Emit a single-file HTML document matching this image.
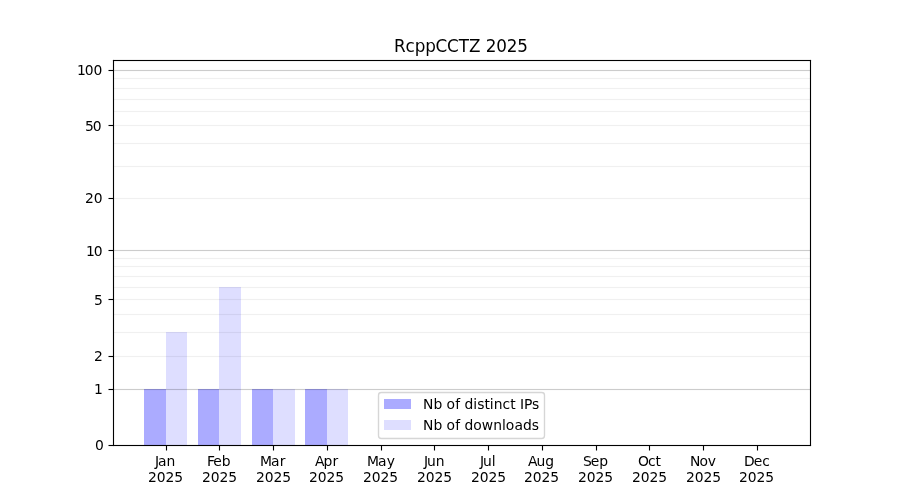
<!DOCTYPE html>
<html lang="en"><head><meta charset="utf-8"><title>RcppCCTZ 2025</title>
<style>html,body{margin:0;padding:0;background:#fff}body{width:900px;height:500px;overflow:hidden}svg{display:block}text{font-family:'DejaVu Sans','Liberation Sans',sans-serif;font-size:13.889px;fill:#000;white-space:pre}</style>
</head><body>
<svg width="900" height="500" viewBox="0 0 900 500">
<rect width="900" height="500" fill="#fff"/>
<g shape-rendering="crispEdges" fill="#00f">
<rect x="144" y="389" width="22" height="56" fill-opacity="0.33"/>
<rect x="166" y="332" width="21" height="113" fill-opacity="0.13"/>
<rect x="198" y="389" width="21" height="56" fill-opacity="0.33"/>
<rect x="219" y="287" width="22" height="158" fill-opacity="0.13"/>
<rect x="252" y="389" width="21" height="56" fill-opacity="0.33"/>
<rect x="273" y="389" width="22" height="56" fill-opacity="0.13"/>
<rect x="305" y="389" width="22" height="56" fill-opacity="0.33"/>
<rect x="327" y="389" width="21" height="56" fill-opacity="0.13"/>
</g>
<g shape-rendering="crispEdges" fill="#000">
<g fill-opacity="0.2">
<rect x="114" y="70" width="696" height="1"/>
<rect x="114" y="250" width="696" height="1"/>
<rect x="114" y="389" width="696" height="1"/>
</g>
<g fill-opacity="0.011">
<rect x="114" y="69" width="696" height="1"/><rect x="114" y="71" width="696" height="1"/>
<rect x="114" y="249" width="696" height="1"/><rect x="114" y="251" width="696" height="1"/>
<rect x="114" y="388" width="696" height="1"/><rect x="114" y="390" width="696" height="1"/>
</g>
<g fill-opacity="0.06">
<rect x="114" y="78" width="696" height="1"/>
<rect x="114" y="88" width="696" height="1"/>
<rect x="114" y="99" width="696" height="1"/>
<rect x="114" y="111" width="696" height="1"/>
<rect x="114" y="125" width="696" height="1"/>
<rect x="114" y="143" width="696" height="1"/>
<rect x="114" y="166" width="696" height="1"/>
<rect x="114" y="198" width="696" height="1"/>
<rect x="114" y="258" width="696" height="1"/>
<rect x="114" y="266" width="696" height="1"/>
<rect x="114" y="276" width="696" height="1"/>
<rect x="114" y="287" width="696" height="1"/>
<rect x="114" y="299" width="696" height="1"/>
<rect x="114" y="314" width="696" height="1"/>
<rect x="114" y="332" width="696" height="1"/>
<rect x="114" y="356" width="696" height="1"/>
</g>
<g fill-opacity="0.0039">
<rect x="114" y="77" width="696" height="1"/><rect x="114" y="79" width="696" height="1"/>
<rect x="114" y="87" width="696" height="1"/><rect x="114" y="89" width="696" height="1"/>
<rect x="114" y="98" width="696" height="1"/><rect x="114" y="100" width="696" height="1"/>
<rect x="114" y="110" width="696" height="1"/><rect x="114" y="112" width="696" height="1"/>
<rect x="114" y="124" width="696" height="1"/><rect x="114" y="126" width="696" height="1"/>
<rect x="114" y="142" width="696" height="1"/><rect x="114" y="144" width="696" height="1"/>
<rect x="114" y="165" width="696" height="1"/><rect x="114" y="167" width="696" height="1"/>
<rect x="114" y="197" width="696" height="1"/><rect x="114" y="199" width="696" height="1"/>
<rect x="114" y="257" width="696" height="1"/><rect x="114" y="259" width="696" height="1"/>
<rect x="114" y="265" width="696" height="1"/><rect x="114" y="267" width="696" height="1"/>
<rect x="114" y="275" width="696" height="1"/><rect x="114" y="277" width="696" height="1"/>
<rect x="114" y="286" width="696" height="1"/><rect x="114" y="288" width="696" height="1"/>
<rect x="114" y="298" width="696" height="1"/><rect x="114" y="300" width="696" height="1"/>
<rect x="114" y="313" width="696" height="1"/><rect x="114" y="315" width="696" height="1"/>
<rect x="114" y="331" width="696" height="1"/><rect x="114" y="333" width="696" height="1"/>
<rect x="114" y="355" width="696" height="1"/><rect x="114" y="357" width="696" height="1"/>
</g>
<rect x="113" y="60" width="698" height="1"/><rect x="113" y="445" width="698" height="1"/>
<g fill-opacity="0.055">
<rect x="114" y="59" width="696" height="1"/><rect x="114" y="61" width="696" height="1"/>
<rect x="114" y="444" width="696" height="1"/><rect x="114" y="446" width="696" height="1"/>
</g>
</g>
<g stroke="#000" stroke-width="1.111" fill="none">
<line x1="166.5" x2="166.5" y1="445.5" y2="450.5"/>
<line x1="219.5" x2="219.5" y1="445.5" y2="450.5"/>
<line x1="273.5" x2="273.5" y1="445.5" y2="450.5"/>
<line x1="327.5" x2="327.5" y1="445.5" y2="450.5"/>
<line x1="381.5" x2="381.5" y1="445.5" y2="450.5"/>
<line x1="434.5" x2="434.5" y1="445.5" y2="450.5"/>
<line x1="488.5" x2="488.5" y1="445.5" y2="450.5"/>
<line x1="542.5" x2="542.5" y1="445.5" y2="450.5"/>
<line x1="596.5" x2="596.5" y1="445.5" y2="450.5"/>
<line x1="649.5" x2="649.5" y1="445.5" y2="450.5"/>
<line x1="703.5" x2="703.5" y1="445.5" y2="450.5"/>
<line x1="757.5" x2="757.5" y1="445.5" y2="450.5"/>
<line x1="108.5" x2="113.5" y1="445.5" y2="445.5"/>
<line x1="108.5" x2="113.5" y1="389.5" y2="389.5"/>
<line x1="108.5" x2="113.5" y1="356.5" y2="356.5"/>
<line x1="108.5" x2="113.5" y1="299.5" y2="299.5"/>
<line x1="108.5" x2="113.5" y1="250.5" y2="250.5"/>
<line x1="108.5" x2="113.5" y1="198.5" y2="198.5"/>
<line x1="108.5" x2="113.5" y1="125.5" y2="125.5"/>
<line x1="108.5" x2="113.5" y1="70.5" y2="70.5"/>
<line x1="113.5" x2="113.5" y1="59.95" y2="446.05"/>
<line x1="810.5" x2="810.5" y1="59.95" y2="446.05"/>
</g>
<path shape-rendering="crispEdges" fill="#000" fill-opacity="0.0275" d="M108 444h1v1h-1zM108 446h1v1h-1zM108 388h1v1h-1zM108 390h1v1h-1zM108 355h1v1h-1zM108 357h1v1h-1zM108 298h1v1h-1zM108 300h1v1h-1zM108 249h1v1h-1zM108 251h1v1h-1zM108 197h1v1h-1zM108 199h1v1h-1zM108 124h1v1h-1zM108 126h1v1h-1zM108 69h1v1h-1zM108 71h1v1h-1zM165 450h1v1h-1zM167 450h1v1h-1zM218 450h1v1h-1zM220 450h1v1h-1zM272 450h1v1h-1zM274 450h1v1h-1zM326 450h1v1h-1zM328 450h1v1h-1zM380 450h1v1h-1zM382 450h1v1h-1zM433 450h1v1h-1zM435 450h1v1h-1zM487 450h1v1h-1zM489 450h1v1h-1zM541 450h1v1h-1zM543 450h1v1h-1zM595 450h1v1h-1zM597 450h1v1h-1zM648 450h1v1h-1zM650 450h1v1h-1zM702 450h1v1h-1zM704 450h1v1h-1zM756 450h1v1h-1zM758 450h1v1h-1z"/>
<path shape-rendering="crispEdges" fill="#000" fill-opacity="0.11" d="M113 59h1v1h-1zM810 59h1v1h-1zM113 446h1v1h-1zM810 446h1v1h-1z"/>
<path shape-rendering="crispEdges" fill="#000" fill-opacity="0.055" d="M112 60h1v1h-1zM811 60h1v1h-1zM811 445h1v1h-1z"/>
<rect x="378.5" y="392.5" width="166" height="46" rx="2.78" ry="2.78" fill="#fff" stroke="#ccc" stroke-width="1.35" opacity="0.8"/>
<g shape-rendering="crispEdges" fill="#00f">
<rect x="384" y="399" width="27" height="10" fill-opacity="0.33"/>
<rect x="384" y="420" width="27" height="10" fill-opacity="0.13"/>
</g>
<g>
<text x="154.93 157.88 166.4" y="466">Jan</text>
<text x="147.9 156.72 165.48 174.19" y="482">2025</text>
<text x="206.89 213.36 221.64" y="466">Feb</text>
<text x="201.88 210.7 219.46 228.17" y="482">2025</text>
<text x="259.88 270.98 279.66" y="466">Mar</text>
<text x="255.88 264.69 273.52 282.16" y="482">2025</text>
<text x="314.89 323.62 332.44" y="466">Apr</text>
<text x="308.99 317.68 326.51 335.15" y="482">2025</text>
<text x="366.92 377.88 386.63" y="466">May</text>
<text x="362.91 371.72 380.42 389.13" y="482">2025</text>
<text x="423.9 426.98 435.72" y="466">Jun</text>
<text x="416.9 425.71 434.48 443.18" y="482">2025</text>
<text x="479.93 482.88 491.68" y="466">Jul</text>
<text x="470.88 479.69 488.46 497.16" y="482">2025</text>
<text x="527.92 536.4 545.13" y="466">Aug</text>
<text x="523.93 532.74 541.45 550.15" y="482">2025</text>
<text x="582.88 590.67 599.22" y="466">Sep</text>
<text x="577.92 586.73 595.44 604.14" y="482">2025</text>
<text x="637.88 647.91 655.43" y="466">Oct</text>
<text x="631.9 640.71 649.48 658.18" y="482">2025</text>
<text x="689.88 699.51 707.68" y="466">Nov</text>
<text x="685.89 694.7 703.47 712.17" y="482">2025</text>
<text x="743.98 753.66 762.2" y="466">Dec</text>
<text x="738.88 747.69 756.46 765.16" y="482">2025</text>
<text x="94.89" y="450">0</text>
<text x="93.89" y="394">1</text>
<text x="93.89" y="361">2</text>
<text x="93.89" y="305">5</text>
<text x="85.94 93.75" y="256">10</text>
<text x="84.94 93.75" y="203">20</text>
<text x="84.94 92.75" y="131">50</text>
<text x="76.92 84.73 93.5" y="75">100</text>
<text x="393.91 405.57 414.66 425.32 435.54 446.94 458.66 468.91 480.65 485.68 496.35 506.71 517.15" y="52" style="font-size:16.8px">RcppCCTZ 2025</text>
<text x="422.93 433.43 442.41 446.4 455.13 460.21 464.43 473.3 477.15 484.38 489.82 493.86 502.41 510.16 515.66 519.88 523.91 532.04" y="409">Nb of distinct IPs</text>
<text x="422.93 433.43 442.41 446.4 455.13 460.21 464.43 473.24 481.79 493.13 501.93 505.79 514.4 522.9 531.71" y="430">Nb of downloads</text>
</g>
</svg>
</body></html>
